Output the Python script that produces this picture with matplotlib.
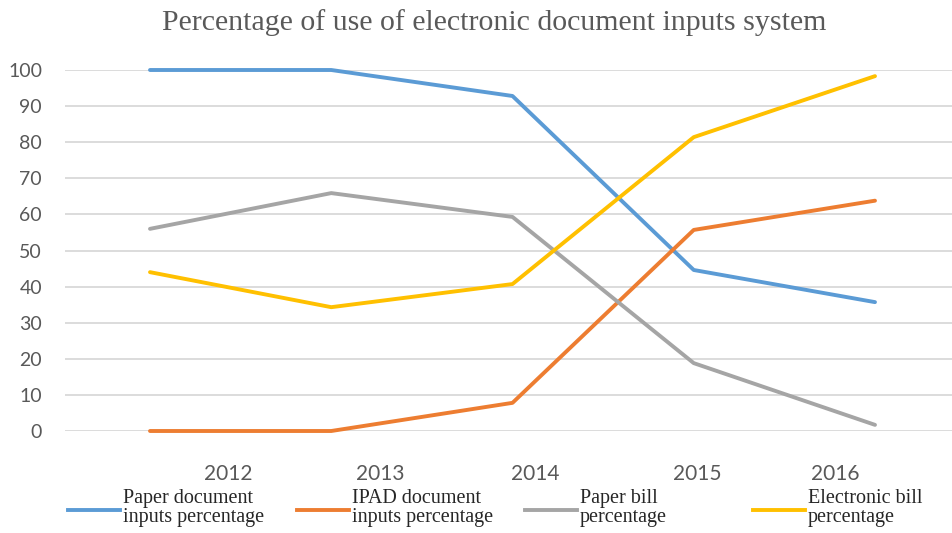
import matplotlib
matplotlib.use("Agg")
import matplotlib.pyplot as plt
from matplotlib.lines import Line2D

years = ["2012", "2013", "2014", "2015", "2016"]
paper_doc = [100, 100, 92.8, 44.6, 35.7]
ipad_doc = [0, 0, 7.8, 55.7, 63.8]
paper_bill = [56, 65.9, 59.3, 18.8, 1.7]
e_bill = [44, 34.3, 40.7, 81.4, 98.3]
series_names = ["Paper document\ninputs percentage", "IPAD document\ninputs percentage",
                "Paper bill\npercentage", "Electronic bill\npercentage"]
y_ticks = [0, 10, 20, 30, 40, 50, 60, 70, 80, 90, 100]
title = "Percentage of use of electronic document inputs system"

colors = ["#5B9BD5", "#ED7D31", "#A5A5A5", "#FFC000"]

W, H = 953, 533
fig = plt.figure(figsize=(W / 100, H / 100), dpi=100)

# axes in pixel coordinates
ax_left, ax_right, ax_top, ax_bottom = 65, 953, 70, 431
ax = fig.add_axes([ax_left / W, 1 - ax_bottom / H, (ax_right - ax_left) / W, (ax_bottom - ax_top) / H])

x = list(range(len(years)))
lines = []
for vals, c in zip([paper_doc, ipad_doc, paper_bill, e_bill], colors):
    ln, = ax.plot(x, vals, color=c, lw=2.8, clip_on=False, solid_capstyle="round", zorder=3)
    lines.append(ln)

# x mapping: index 0 at 150 px, index 4 at 875 px
px0, px4 = 150, 875
unit = (px4 - px0) / 4
ax.set_xlim(-(px0 - ax_left) / unit, (ax_right - px0) / unit)
ax.set_ylim(0, 100)

ax.set_yticks(y_ticks)
ax.yaxis.grid(True, color="#d9d9d9", lw=1.3)
ax.set_axisbelow(True)
for s in ax.spines.values():
    s.set_visible(False)
ax.tick_params(axis="y", length=0, pad=16.5, labelsize=14, labelcolor="#595959")
for t in ax.get_yticklabels():
    t.set_fontfamily("Lato")

# year labels (positions as in the reference, offset from data points)
label_px = [228, 380, 535, 697, 835]
ax.set_xticks([(p - px0) / unit for p in label_px])
ax.set_xticklabels(years, fontfamily="Lato", fontsize=15, color="#595959")
ax.tick_params(axis="x", length=0, pad=24)

fig.text(494 / W, 1 - 23 / H, title, ha="center", va="center",
         fontfamily="Liberation Serif", fontsize=21.5, color="#595959")

# legend
handle_x = [68, 297, 525, 753]
hy = 510
for ln, name, hx in zip(lines, series_names, handle_x):
    fig.add_artist(Line2D([hx / W, (hx + 52) / W], [1 - hy / H, 1 - hy / H],
                          color=ln.get_color(), lw=2.8, transform=fig.transFigure))
    fig.text((hx + 55) / W, 1 - 508 / H, name, ha="left", va="center",
             fontfamily="Liberation Serif", fontsize=14.5, color="#262626", linespacing=1.02)

fig.savefig("out.png", dpi=100)
